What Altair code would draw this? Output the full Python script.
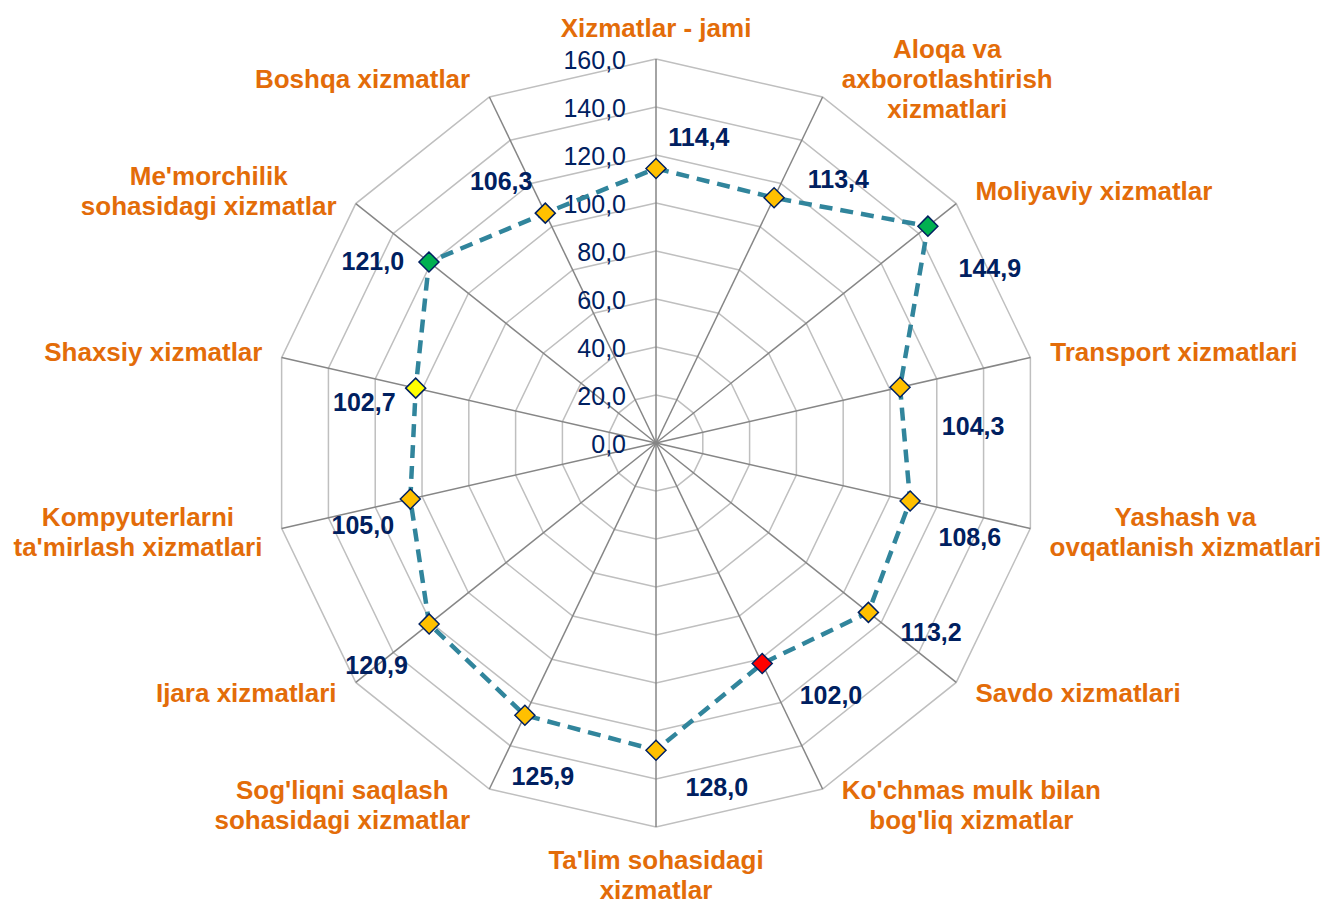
import math
import altair as alt
import pandas as pd

# ---------------- data ----------------
categories = [
    "Xizmatlar - jami",
    "Aloqa va\naxborotlashtirish\nxizmatlari",
    "Moliyaviy xizmatlar",
    "Transport xizmatlari",
    "Yashash va\novqatlanish xizmatlari",
    "Savdo xizmatlari",
    "Ko'chmas mulk bilan\nbog'liq xizmatlar",
    "Ta'lim sohasidagi\nxizmatlar",
    "Sog'liqni saqlash\nsohasidagi xizmatlar",
    "Ijara xizmatlari",
    "Kompyuterlarni\nta'mirlash xizmatlari",
    "Shaxsiy xizmatlar",
    "Me'morchilik\nsohasidagi xizmatlar",
    "Boshqa xizmatlar",
]
values = [114.4, 113.4, 144.9, 104.3, 108.6, 113.2, 102.0,
          128.0, 125.9, 120.9, 105.0, 102.7, 121.0, 106.3]
marker_colors = ["#FFC000", "#FFC000", "#00B050", "#FFC000", "#FFC000", "#FFC000", "#FF0000",
                 "#FFC000", "#FFC000", "#FFC000", "#FFC000", "#FFFF00", "#00B050", "#FFC000"]
levels = [0, 20, 40, 60, 80, 100, 120, 140, 160]
r_max = 160

# value-label placement (as laid out in the original): angular nudge (deg) and radial gap
label_angle_shift = [8, 9, 11, 10, 4, -4, -9, -10, -7, 0, -3, -5, -6, -5]
label_radius_gap = [14, 20, 12, 28, 28, 26, 26, 18, 21, 28, 22, 20, 19, 20]

# ---------------- styling ----------------
N = len(categories)
ORANGE = "#E36C09"
NAVY = "#002060"
FONT = "Liberation Sans"
CAT_FS = 26
LINE_H = 30

W, H = 1313, 895
PX_PER_UNIT = 2.4
cx_px, cy_px = 648, 435
xmin = -cx_px / PX_PER_UNIT
xmax = xmin + W / PX_PER_UNIT
ymax = cy_px / PX_PER_UNIT
ymin = ymax - H / PX_PER_UNIT

xs = alt.Scale(domain=[xmin, xmax], nice=False, zero=False)
ys = alt.Scale(domain=[ymin, ymax], nice=False, zero=False)
TH = f"datum.idx * 2 * PI / {N}"

# Arial/Liberation Sans Bold advance widths (per 1000 em) for block centring
BOLD_W = {
    "a": 556, "b": 611, "c": 556, "d": 611, "e": 556, "f": 333, "g": 611, "h": 611, "i": 278,
    "j": 278, "k": 556, "l": 278, "m": 889, "n": 611, "o": 611, "p": 611, "q": 611, "r": 389,
    "s": 556, "t": 333, "u": 611, "v": 556, "w": 778, "x": 556, "y": 556, "z": 500, "'": 238,
    " ": 278, "-": 333, "A": 722, "B": 722, "K": 722, "M": 833, "S": 667, "T": 611, "X": 667,
    "Y": 667, "I": 278,
}


def text_w_units(s):
    return sum(BOLD_W.get(ch, 600) for ch in s) * CAT_FS / 1000 / PX_PER_UNIT


pts = pd.DataFrame({"idx": list(range(N)), "cat": categories, "value": values,
                    "color": marker_colors, "dang": label_angle_shift, "dr": label_radius_gap})
closed = pd.concat([pts, pts.iloc[[0]].assign(idx=N)], ignore_index=True)

grid = pd.DataFrame([{"level": lv, "idx": k} for lv in levels[1:] for k in range(N + 1)])
spokes = pd.DataFrame({"idx": list(range(N))})
axlab = pd.DataFrame({"level": levels})

rows = []
for k, cat in enumerate(categories):
    lines = cat.split("\n")
    half = max(text_w_units(l) for l in lines) / 2
    for j, l in enumerate(lines):
        rows.append({"idx": k, "line": l, "j": j, "n": len(lines), "half": half})
cat_lines = pd.DataFrame(rows)
LH_U = LINE_H / PX_PER_UNIT


def X(field):
    return alt.X(field, type="quantitative", scale=xs, axis=None)


def Y(field):
    return alt.Y(field, type="quantitative", scale=ys, axis=None)


grid_layer = alt.Chart(grid).transform_calculate(
    x=f"datum.level * sin({TH})", y=f"datum.level * cos({TH})"
).mark_line(color="#BFBFBF", strokeWidth=1.5).encode(
    x=X("x"), y=Y("y"), detail="level:N", order="idx:Q"
)

spoke_layer = alt.Chart(spokes).transform_calculate(
    x0="0", y0="0", x2=f"{r_max} * sin({TH})", y2=f"{r_max} * cos({TH})"
).mark_rule(color="#868686", strokeWidth=1.5).encode(
    x=X("x0"), y=Y("y0"), x2="x2:Q", y2="y2:Q"
)

axis_layer = alt.Chart(axlab).transform_calculate(
    x0="0", lab="replace(format(datum.level, '.1f'), '.', ',')"
).mark_text(align="right", baseline="middle", dx=-30, dy=2, fontSize=25,
            font=FONT, color=NAVY).encode(
    x=X("x0"), y=Y("level"), text="lab:N"
)

line_layer = alt.Chart(closed).transform_calculate(
    x=f"datum.value * sin({TH})", y=f"datum.value * cos({TH})"
).mark_line(color="#31859C", strokeWidth=4.5, strokeDash=[13, 8], strokeCap="butt").encode(
    x=X("x"), y=Y("y"), order="idx:Q"
)

marker_layer = alt.Chart(pts).transform_calculate(
    x=f"datum.value * sin({TH})", y=f"datum.value * cos({TH})"
).mark_point(shape="diamond", size=400, filled=True, opacity=1,
             stroke=NAVY, strokeWidth=1.5).encode(
    x=X("x"), y=Y("y"), fill=alt.Fill("color:N", scale=None)
)

value_layer = alt.Chart(pts).transform_calculate(
    th=TH,
    lr="datum.value + datum.dr",
    x="datum.lr * sin(datum.th + datum.dang * PI / 180)",
    y="datum.lr * cos(datum.th + datum.dang * PI / 180)",
    lab="replace(format(datum.value, '.1f'), '.', ',')",
).mark_text(fontSize=25, fontWeight="bold", font=FONT, color=NAVY,
            align="center", baseline="middle").encode(
    x=X("x"), y=Y("y"), text="lab:N"
)

cat_layer = alt.Chart(cat_lines).transform_calculate(
    s=f"sin({TH})",
    c=f"cos({TH})",
).transform_calculate(
    side="datum.s > 0.05 ? 1 : (datum.s < -0.05 ? -1 : 0)",
    vside="abs(datum.s) <= 0.05 ? (datum.c > 0 ? 1 : -1) : 0",
).transform_calculate(
    x=f"{r_max} * datum.s + datum.side * (8 + datum.half)",
    y0=f"{r_max} * datum.c + 8 * datum.c "
       f"+ datum.vside * ((datum.n - 1) * {LH_U} / 2 + (datum.vside > 0 ? 4.5 : 6))",
    y=f"datum.y0 + ((datum.n - 1) / 2 - datum.j) * {LH_U}",
).mark_text(fontSize=CAT_FS, fontWeight="bold", font=FONT, color=ORANGE,
            align="center", baseline="middle").encode(
    x=X("x"), y=Y("y"), text="line:N"
)

chart = alt.layer(
    grid_layer, spoke_layer, axis_layer, line_layer, marker_layer, value_layer, cat_layer
).properties(
    width=W, height=H, autosize=alt.AutoSizeParams(type="none"), padding=0,
    background="white"
).configure_view(stroke=None)

chart.save("out.html", embed_options={"renderer": "svg", "actions": False})
